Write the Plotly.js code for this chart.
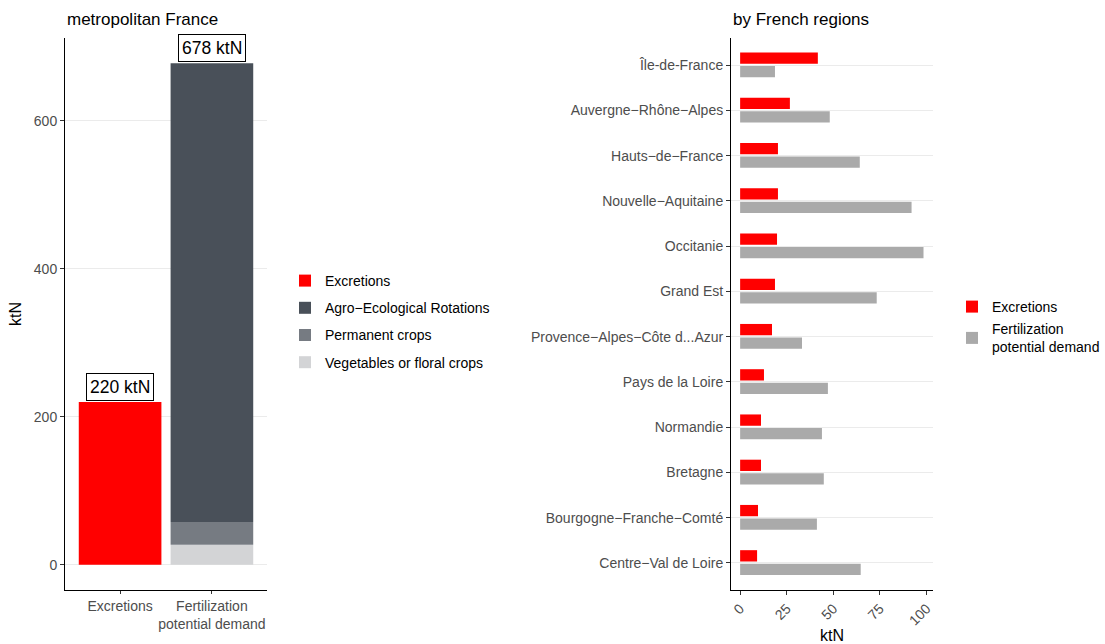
<!DOCTYPE html>
<html>
<head>
<meta charset="utf-8">
<script src="https://cdn.plot.ly/plotly-3.0.1.min.js"></script>
<style>html,body{margin:0;padding:0;background:#fff;}#chart{width:1105px;height:644px;}</style>
</head>
<body>
<div id="chart"></div>
<script>
// ---- Data: metropolitan France ----
var franceCategories = ["Excretions", "Fertilization<br>potential demand"];
var excretionsTotal = 220;
var vegetablesDemand = 27;
var permanentDemand = 31;
var agroDemand = 620;

// ---- Data: by French regions ----
var regions = ["Île-de-France", "Auvergne−Rhône−Alpes", "Hauts−de−France", "Nouvelle−Aquitaine",
  "Occitanie", "Grand Est", "Provence−Alpes−Côte d...Azur", "Pays de la Loire", "Normandie",
  "Bretagne", "Bourgogne−Franche−Comté", "Centre−Val de Loire"];
var regionExcretions = [41.7, 26.7, 20.3, 20.3, 19.8, 18.7, 17.1, 12.8, 11.2, 11.2, 9.6, 9.1];
var regionDemand = [18.7, 48.1, 64.2, 92.0, 98.4, 73.3, 33.2, 47.1, 43.9, 44.9, 41.2, 64.7];
var regionTicks = [0, 25, 50, 75, 100];

var W = 1105, H = 644;
function px(x){return x/W;}
function py(y){return 1 - y/H;}

var RED = "#FF0000", AGRO = "#495059", PERM = "#767B82", VEG = "#D3D4D6", GREY = "#AAAAAA";
var FAM = "Liberation Sans, Arial, sans-serif";
var tickFont = {family: FAM, size: 14, color: "#4D4D4D"};
var legFont = {family: FAM, size: 14, color: "#000"};

var fertTotal = vegetablesDemand + permanentDemand + agroDemand;

var traces = [
  {type: "bar", x: [franceCategories[0]], y: [excretionsTotal], width: 0.9, name: "Excretions",
   marker: {color: RED}, xaxis: "x", yaxis: "y", legend: "legend", legendgroup: "a", legendrank: 1},
  {type: "bar", x: [franceCategories[1]], y: [vegetablesDemand], base: [0], width: 0.9, name: "Vegetables or floral crops",
   marker: {color: VEG}, xaxis: "x", yaxis: "y", legend: "legend", legendgroup: "d", legendrank: 4},
  {type: "bar", x: [franceCategories[1]], y: [permanentDemand], base: [vegetablesDemand], width: 0.9, name: "Permanent crops",
   marker: {color: PERM}, xaxis: "x", yaxis: "y", legend: "legend", legendgroup: "c", legendrank: 3},
  {type: "bar", x: [franceCategories[1]], y: [agroDemand], base: [vegetablesDemand + permanentDemand], width: 0.9, name: "Agro−Ecological Rotations",
   marker: {color: AGRO}, xaxis: "x", yaxis: "y", legend: "legend", legendgroup: "b", legendrank: 2},
  {type: "bar", orientation: "h", y: regions, x: regionExcretions, width: 0.25, offset: -0.28, name: "Excretions",
   marker: {color: RED}, xaxis: "x2", yaxis: "y2", legend: "legend2", legendgroup: "e", legendrank: 1},
  {type: "bar", orientation: "h", y: regions, x: regionDemand, width: 0.25, offset: 0.02, name: "Fertilization<br>potential demand",
   marker: {color: GREY}, xaxis: "x2", yaxis: "y2", legend: "legend2", legendgroup: "f", legendrank: 2}
];

var axisCommon = {showline: true, linecolor: "#000", linewidth: 1, ticks: "outside", ticklen: 4,
  tickcolor: "#333", tickwidth: 1, tickfont: tickFont, zeroline: false, automargin: false, fixedrange: true};

var layout = {
  width: W, height: H, margin: {l: 0, r: 0, t: 0, b: 0},
  paper_bgcolor: "#fff", plot_bgcolor: "#fff",
  barmode: "overlay",
  font: {family: FAM},
  xaxis: Object.assign({}, axisCommon, {domain: [px(65), px(267)], anchor: "y", type: "category",
    categoryarray: franceCategories, range: [-0.6, 1.6], showgrid: false, ticklen: 3}),
  yaxis: Object.assign({}, axisCommon, {domain: [py(590), py(38)], anchor: "x", range: [-34, 712],
    tickvals: [0, 200, 400, 600], showgrid: true, gridcolor: "#EBEBEB", gridwidth: 1,
    title: {text: "ktN", font: {size: 16, color: "#000"}, standoff: 8}}),
  xaxis2: Object.assign({}, axisCommon, {domain: [px(731), px(933)], anchor: "y2", range: [-4.9, 103.5],
    tickvals: regionTicks, tickangle: -45, showgrid: false,
    title: {text: "ktN", font: {size: 16, color: "#000"}, standoff: 8}}),
  yaxis2: Object.assign({}, axisCommon, {domain: [py(590), py(38)], anchor: "x2", type: "category",
    categoryarray: regions, range: [11.6, -0.6], showgrid: true, gridcolor: "#EBEBEB", gridwidth: 1}),
  legend: {x: px(285), y: py(265), xanchor: "left", yanchor: "top", font: legFont,
    tracegroupgap: 6, bgcolor: "rgba(0,0,0,0)", traceorder: "grouped"},
  legend2: {x: px(952), y: py(291), xanchor: "left", yanchor: "top", font: legFont,
    tracegroupgap: 1, bgcolor: "rgba(0,0,0,0)", traceorder: "grouped"},
  annotations: [
    {xref: "paper", yref: "paper", x: px(65), y: py(20), xanchor: "left", yanchor: "middle",
     text: "metropolitan France", showarrow: false, font: {size: 17, color: "#000"}},
    {xref: "paper", yref: "paper", x: px(731), y: py(20), xanchor: "left", yanchor: "middle",
     text: "by French regions", showarrow: false, font: {size: 17, color: "#000"}},
    {xref: "x", yref: "y", x: franceCategories[0], y: excretionsTotal, yanchor: "bottom", yshift: 1,
     text: excretionsTotal + " ktN", showarrow: false, font: {size: 17.5, color: "#000"},
     bordercolor: "#000", borderwidth: 1, borderpad: 3, bgcolor: "#fff"},
    {xref: "x", yref: "y", x: franceCategories[1], y: fertTotal, yanchor: "bottom", yshift: 1,
     text: fertTotal + " ktN", showarrow: false, font: {size: 17.5, color: "#000"},
     bordercolor: "#000", borderwidth: 1, borderpad: 3, bgcolor: "#fff"}
  ]
};

Plotly.newPlot("chart", traces, layout, {displayModeBar: false, staticPlot: true});
</script>
</body>
</html>
